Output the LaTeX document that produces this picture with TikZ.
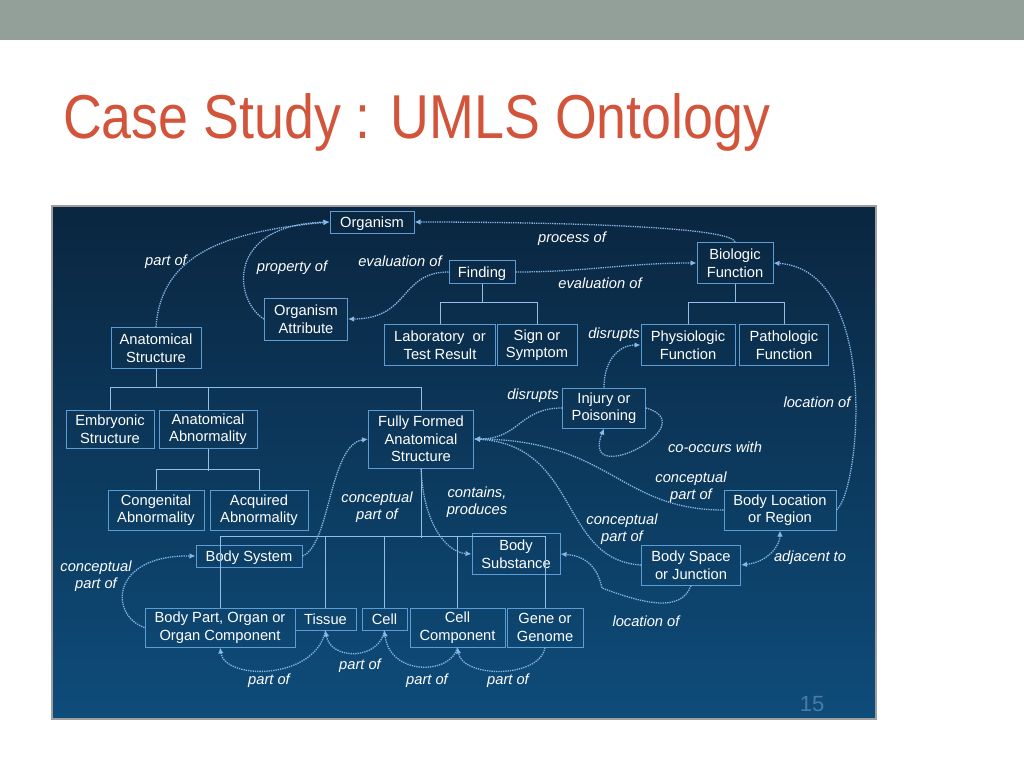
\documentclass[tikz,border=0pt]{standalone}
\usepackage{fontspec}
\setmainfont{Liberation Sans}
\usetikzlibrary{arrows.meta}

\definecolor{barcol}{HTML}{93A09A}
\definecolor{titlecol}{HTML}{D2543A}
\definecolor{pantop}{HTML}{0A2640}
\definecolor{panbot}{HTML}{0E4C7A}
\definecolor{boxline}{HTML}{5C9DD6}
\definecolor{isacol}{HTML}{93BEE6}
\definecolor{dotline}{HTML}{86B8E8}
\definecolor{numcol}{HTML}{4A7BA5}

\tikzset{
cls/.style 2 args={draw=boxline,line width=1pt,text=white,align=center,
  inner sep=0pt,minimum width=#1pt,minimum height=#2pt,
  font=\fontsize{14.7}{17.5}\selectfont},
oneline/.style={text height=12pt,text depth=1.5pt},
isa/.style={draw=isacol,line width=1pt},
rel/.style={draw=dotline,densely dotted,line width=1.3pt,
  -{Latex[length=6pt,width=5.5pt]}},
rel lbl/.style={text=white,align=center,inner sep=0pt,
  font=\fontsize{14.7}{17}\selectfont\itshape}
}

\begin{document}
\begin{tikzpicture}[x=1pt,y=-1pt]
\useasboundingbox (0,0) rectangle (1024,768);
\fill[white] (0,0) rectangle (1024,768);
\fill[barcol] (0,0) rectangle (1024,40);
\node[anchor=base west,text=titlecol,inner sep=0pt,xscale=0.867,
  font=\fontsize{62}{70}\selectfont] (title) at (63,138) {Case Study : UMLS Ontology};

% panel
\shade[top color=pantop,bottom color=panbot] (52,206) rectangle (876,719);
\draw[gray!75,line width=1.5pt] (52,206) rectangle (876,719);
\node[text=numcol,font=\fontsize{22}{24}\selectfont] (pagenum) at (812,704) {15};

% semantic types
\node[cls={84}{22},oneline] (org) at (372,222) {Organism};
\node[cls={66}{23},oneline] (finding) at (482,272) {Finding};
\node[cls={76}{41}] (bio) at (735,263) {Biologic\\Function};
\node[cls={83}{42}] (orgattr) at (306,319) {Organism\\Attribute};
\node[cls={90}{41}] (anat) at (156,348) {Anatomical\\Structure};
\node[cls={111}{41}] (lab) at (440,345) {Laboratory~~or\\Test Result};
\node[cls={80}{41}] (sign) at (537,345) {Sign or\\Symptom};
\node[cls={94}{41}] (phys) at (688,345) {Physiologic\\Function};
\node[cls={89}{41}] (patho) at (784,345) {Pathologic\\Function};
\node[cls={88}{38}] (embryo) at (110,429) {Embryonic\\Structure};
\node[cls={98}{38}] (abn) at (208,429) {Anatomical\\Abnormality};
\node[cls={105}{58}] (ff) at (421,439) {Fully Formed\\Anatomical\\Structure};
\node[cls={83}{40}] (injury) at (604,408) {Injury or\\Poisoning};
\node[cls={96}{40}] (congen) at (156,510) {Congenital\\Abnormality};
\node[cls={98}{40}] (acq) at (259,510) {Acquired\\Abnormality};
\node[cls={112}{40}] (bodyloc) at (780,510) {Body Location\\or Region};
\node[cls={106}{22},oneline] (bodysys) at (249,556) {Body System};
\node[cls={88}{41}] (bodysub) at (516,554) {Body\\Substance};
\node[cls={99}{40}] (bodyspace) at (691,565) {Body Space\\or Junction};
\node[cls={150}{39}] (bodypart) at (220,627.5) {Body Part, Organ or\\Organ Component};
\node[cls={61}{22},oneline] (tissue) at (325.5,619) {Tissue};
\node[cls={45}{22},oneline] (cell) at (384.5,619) {Cell};
\node[cls={95}{39}] (cellcomp) at (457.5,627.5) {Cell\\Component};
\node[cls={76}{39}] (gene) at (545,627.5) {Gene or\\Genome};

% isa tree
\draw[isa] (finding.south) -- ++(0,19);
\draw[isa] (lab.north) -- ++(0,-22) -| (sign.north);
\draw[isa] (bio.south) -- ++(0,19);
\draw[isa] (phys.north) -- ++(0,-22) -| (patho.north);
\draw[isa] (anat.south) -- ++(0,19);
\draw[isa] (embryo.north) -- ++(0,-22) -| (ff.north);
\draw[isa] (abn.north) -- ++(0,-22);
\draw[isa] (abn.south) -- ++(0,22);
\draw[isa] (congen.north) -- ++(0,-20) -| (acq.north);
\draw[isa] (ff.south) -- ++(0,69);
\draw[isa] (bodypart.north) -- ++(0,-71) -| (gene.north);
\draw[isa] (tissue.north) -- ++(0,-71);
\draw[isa] (cell.north) -- ++(0,-71);
\draw[isa] (cellcomp.north) -- ++(0,-71);

% relations
\draw[rel] (anat.north) .. controls +(5,-70) and +(-110,10) .. (org.west);
\draw[rel] (orgattr.west) .. controls +(-30,-18) and +(-105,3) .. (org.west);
\draw[rel] (finding.west) .. controls +(-49,0) and +(62,0) .. (orgattr.east);
\draw[rel] (finding.east) to[out=0,in=180] (bio.west);
\draw[rel] (bio.north) .. controls +(-5,-18) and +(86,0) .. (org.east);
\draw[rel] (bodyloc.east) .. controls +(24,-20) and +(107,7) .. (bio.east);
\draw[rel] (injury.north) .. controls +(0,-28) and +(-21,0) .. (phys.west);
\draw[rel] (injury.west) .. controls +(-43,0) and +(46,0) .. (ff.east);
\draw[rel] (injury.east) .. controls +(60,17) and +(-25,62) .. (injury.south);
\draw[rel] (bodyloc.west) .. controls +(-104,0) and +(136,1) .. (ff.east);
\draw[rel] (bodyspace.west) .. controls +(-82,-5) and +(106,6) .. (ff.east);
\draw[rel,{Latex[length=6pt,width=5.5pt]}-{Latex[length=6pt,width=5.5pt]}]
  (bodyspace.east) .. controls +(27,-3) and +(0,15) .. (bodyloc.south);
\draw[rel] (bodyspace.south) .. controls +(-10,28) and +(40,15) .. (602,588)
  .. controls +(-5,-22) and +(25,2) .. (bodysub.east);
\draw[rel] (ff.south) .. controls +(2,52) and +(-27,-2) .. (bodysub.west);
\draw[rel] (bodysys.east) .. controls +(28,-11) and +(-39,6) .. (ff.west);
\draw[rel] (bodypart.west) .. controls +(-35,-12) and +(-86,-1) .. (bodysys.west);
\draw[rel] (tissue.south) .. controls +(-10,50) and +(5,33) .. (bodypart.south);
\draw[rel] (cell.south) .. controls +(-5,30) and +(5,30) .. (tissue.south);
\draw[rel] (cellcomp.south) .. controls +(-7,28) and +(5,45) .. (cell.south);
\draw[rel] (gene.south) .. controls +(-5,31) and +(5,31) .. (cellcomp.south);

% relation labels
\node[rel lbl] (l-anat-org) at (166,262) {part of};
\node[rel lbl] (l-attr-org) at (292,268) {property of};
\node[rel lbl] (l-find-attr) at (400,261) {evaluation of};
\node[rel lbl] (l-bio-org) at (572,239) {process of};
\node[rel lbl] (l-find-bio) at (600,283) {evaluation of};
\node[rel lbl] (l-inj-phys) at (614,335) {disrupts};
\node[rel lbl] (l-inj-ff) at (533,396) {disrupts};
\node[rel lbl] (l-loc-bio) at (817,402) {location of};
\node[rel lbl] (l-inj-inj) at (715,447) {co-occurs with};
\node[rel lbl] (l-loc-ff) at (691,487) {conceptual\\part of};
\node[rel lbl] (l-ff-sub) at (477,502) {contains,\\produces};
\node[rel lbl] (l-space-ff) at (622,529) {conceptual\\part of};
\node[rel lbl] (l-space-loc) at (810,558) {adjacent to};
\node[rel lbl] (l-sys-ff) at (377,507) {conceptual\\part of};
\node[rel lbl] (l-part-sys) at (96,576) {conceptual\\part of};
\node[rel lbl] (l-space-sub) at (646,621) {location of};
\node[rel lbl] (l-cell-tis) at (360,666) {part of};
\node[rel lbl] (l-tis-part) at (269,681) {part of};
\node[rel lbl] (l-comp-cell) at (427,681) {part of};
\node[rel lbl] (l-gene-comp) at (508,681) {part of};
\end{tikzpicture}
\end{document}
